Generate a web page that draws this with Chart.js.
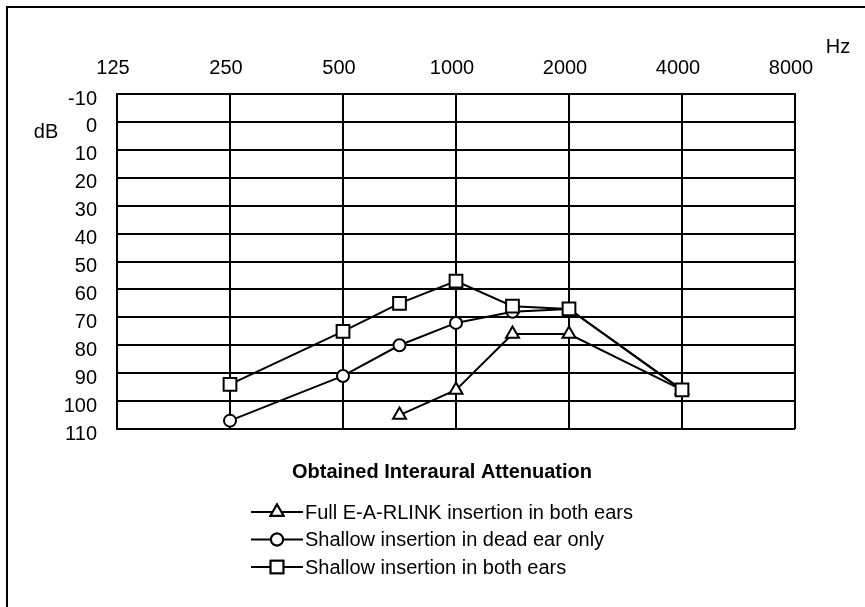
<!DOCTYPE html>
<html>
<head>
<meta charset="utf-8">
<title>Obtained Interaural Attenuation</title>
<script src="https://cdn.jsdelivr.net/npm/chart.js@4.4.1/dist/chart.umd.min.js"></script>
<style>
  body { margin: 0; background: #fff; }
  canvas { display: block; }
</style>
</head>
<body>
<canvas id="audioChart" width="865" height="607"></canvas>
<script>
// half-octave steps on the frequency axis, only the octaves get a label
const freqLabels = ['125', '180', '250', '350', '500', '750', '1000', '1500', '2000', '3000', '4000', '6000', '8000'];

const fullFreqs = ['750', '1000', '1500', '2000', '4000'];
const fullValues = [105, 96, 76, 76, 96];

const deadEarFreqs = ['250', '500', '750', '1000', '1500', '2000', '4000'];
const deadEarValues = [107, 91, 80, 72, 68, 67, 96];

const bothFreqs = ['250', '500', '750', '1000', '1500', '2000', '4000'];
const bothValues = [94, 75, 65, 57, 66, 67, 96];

const seriesNames = [
    'Full E-A-RLINK insertion in both ears',
    'Shallow insertion in dead ear only',
    'Shallow insertion in both ears'
];

const FONT = "'Liberation Sans', Arial, sans-serif";

function toPoints(freqs, values) {
    return freqs.map((f, i) => ({ x: f, y: values[i] }));
}

function makeSeries(label, freqs, values, style, radius, order) {
    return {
        label: label,
        data: toPoints(freqs, values),
        borderColor: '#000',
        borderWidth: 2,
        pointStyle: style,
        pointRadius: radius,
        pointBorderWidth: 2,
        pointBackgroundColor: '#fff',
        pointBorderColor: '#000',
        fill: false,
        tension: 0,
        order: order
    };
}

// cadre, libellés d'unités, titre et légende dessinés à la main
const decorPlugin = {
    id: 'decor',
    beforeDraw: (chart) => {
        const ctx = chart.ctx;
        ctx.save();
        ctx.fillStyle = '#000';
        ctx.fillRect(6, 6, 2, chart.height);
        ctx.fillRect(6, 6, chart.width, 2);
        ctx.restore();
    },
    afterDraw: (chart) => {
        const ctx = chart.ctx;
        ctx.save();
        ctx.fillStyle = '#000';
        ctx.textBaseline = 'middle';
        ctx.font = '20px ' + FONT;
        ctx.textAlign = 'center';
        ctx.fillText('dB', 46, 132);
        ctx.fillText('Hz', 838, 47);

        ctx.font = 'bold 20px ' + FONT;
        ctx.fillText('Obtained Interaural Attenuation', 442, 472);

        ctx.font = '20px ' + FONT;
        ctx.textAlign = 'left';
        chart.data.datasets.forEach((ds, i) => {
            const y = 512 + i * 27.5;
            ctx.strokeStyle = '#000';
            ctx.lineWidth = 2;
            ctx.beginPath();
            ctx.moveTo(251, y);
            ctx.lineTo(303, y);
            ctx.stroke();
            ctx.fillStyle = '#fff';
            Chart.helpers.drawPoint(ctx, { pointStyle: ds.pointStyle, radius: ds.pointRadius, borderWidth: 2, rotation: 0 }, 277, y);
            ctx.fill();
            ctx.stroke();
            ctx.fillStyle = '#000';
            ctx.fillText(seriesNames[i], 305, y + 1);
        });
        ctx.restore();
    }
};

const ctx = document.getElementById('audioChart').getContext('2d');
const audioChart = new Chart(ctx, {
    type: 'line',
    data: {
        labels: freqLabels,
        datasets: [
            makeSeries(seriesNames[0], fullFreqs, fullValues, 'triangle', 7.5, 2),
            makeSeries(seriesNames[1], deadEarFreqs, deadEarValues, 'circle', 6, 1),
            makeSeries(seriesNames[2], bothFreqs, bothValues, 'rect', 9, 0)
        ]
    },
    options: {
        responsive: false,
        animation: false,
        layout: { padding: { left: 0, right: 70, top: 0, bottom: 178 } },
        plugins: {
            legend: { display: false },
            title: { display: false },
            tooltip: { enabled: false }
        },
        scales: {
            x: {
                type: 'category',
                position: 'top',
                offset: false,
                afterFit: (scale) => { scale.height = 94; },
                grid: {
                    drawTicks: false,
                    lineWidth: 2,
                    color: (c) => (c.index % 2 === 0 ? '#000' : 'rgba(0,0,0,0)')
                },
                border: { display: true, color: '#000', width: 2 },
                ticks: {
                    autoSkip: false,
                    maxRotation: 0,
                    padding: 14,
                    labelOffset: -4,
                    color: '#000',
                    font: { family: FONT, size: 20 },
                    callback: function (value, index) {
                        return index % 2 === 0 ? freqLabels[index] : '';
                    }
                }
            },
            y: {
                type: 'linear',
                reverse: true,
                min: -10,
                max: 110,
                afterFit: (scale) => { scale.width = 117; },
                grid: { drawTicks: false, lineWidth: 2, color: '#000' },
                border: { display: true, color: '#000', width: 2 },
                ticks: {
                    stepSize: 10,
                    padding: 20,
                    labelOffset: 5,
                    color: '#000',
                    font: { family: FONT, size: 20 }
                }
            }
        }
    },
    plugins: [decorPlugin]
});
</script>
</body>
</html>
